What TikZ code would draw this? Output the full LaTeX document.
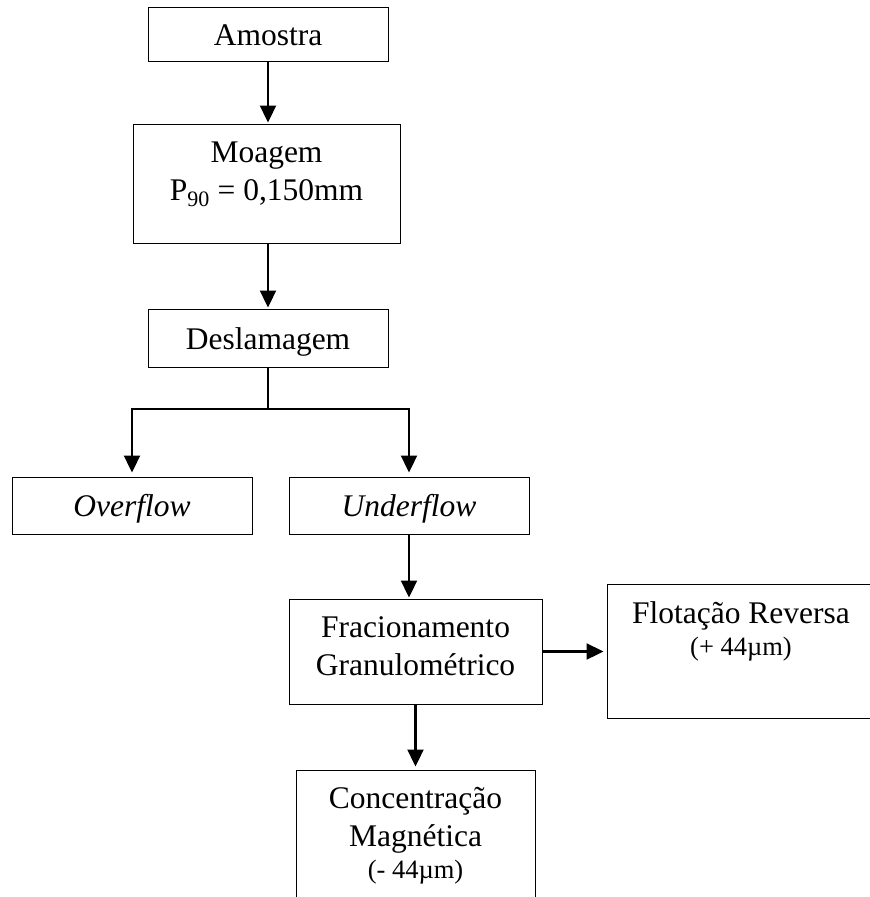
\documentclass[tikz,border=0pt]{standalone}
\usepackage{fontspec}
\setmainfont{Liberation Serif}
\usetikzlibrary{arrows.meta,positioning}

\tikzset{
  box/.style={draw, line width=1pt, inner sep=0pt, minimum width=240, minimum height=58,
    text height=22pt, text depth=0pt, font=\fontsize{31.5}{38}\selectfont},
  txt/.style={align=center, inner sep=0pt, font=\fontsize{31.5}{38}\selectfont},
  arr/.style={line width=2.3pt, -{Triangle[length=17pt,width=16pt]}, shorten >=1pt},
}
\newcommand{\smalltxt}{\fontsize{26.5}{30}\selectfont}

\begin{document}
\begin{tikzpicture}[x=1pt,y=-1pt]
\useasboundingbox (0,0) rectangle (870,897);

% boxes
\node[box, minimum height=54] (amostra) at (268,34) {Amostra};
\node[box, minimum width=267, minimum height=119] (moagem) at (266.5,183.5) {};
\node[txt, below=18pt of moagem.north] (moagem-t) {Moagem\\P\textsubscript{90} = 0,150mm};
\node[box] (deslam) at (268,338) {Deslamagem};
\node[box, minimum height=57] (over) at (132,505.5) {\textit{Overflow}};
\node[box, minimum height=57] (under) at (409,505.5) {\textit{Underflow}};
\node[box, minimum width=253, minimum height=105] (frac) at (415.5,651.5) {};
\node[txt, below=18pt of frac.north] (frac-t) {Fracionamento\\Granulométrico};
\node[box, minimum width=268, minimum height=134] (flot) at (741,651.3) {};
\node[txt, below=17.5pt of flot.north] (flot-t) {Flotação Reversa\\[-6pt]{\smalltxt (+ 44µm)}};
\node[box, minimum width=239, minimum height=140] (conc) at (415.5,840) {};
\node[txt, below=17.7pt of conc.north] (conc-t) {Concentração\\Magnética\\[-6pt]{\smalltxt (- 44µm)}};

% connectors
\coordinate (split) at (268,409);
\draw[arr] (amostra.south) -- (amostra.south|-moagem.north);
\draw[arr] (deslam.north|-moagem.south) -- (deslam.north);
\draw[line width=2.3pt] (deslam) -- (split);
\draw[arr, shorten >=4pt] (split) -| (over);
\draw[arr, shorten >=4pt] (split) -| (under);
\draw[arr] (under.south) -- (under.south|-frac.north);
\draw[arr, shorten >=3pt] (frac.east) -- (frac.east-|flot.west);
\draw[arr, shorten >=3pt] (frac) -- (conc);
\end{tikzpicture}
\end{document}
